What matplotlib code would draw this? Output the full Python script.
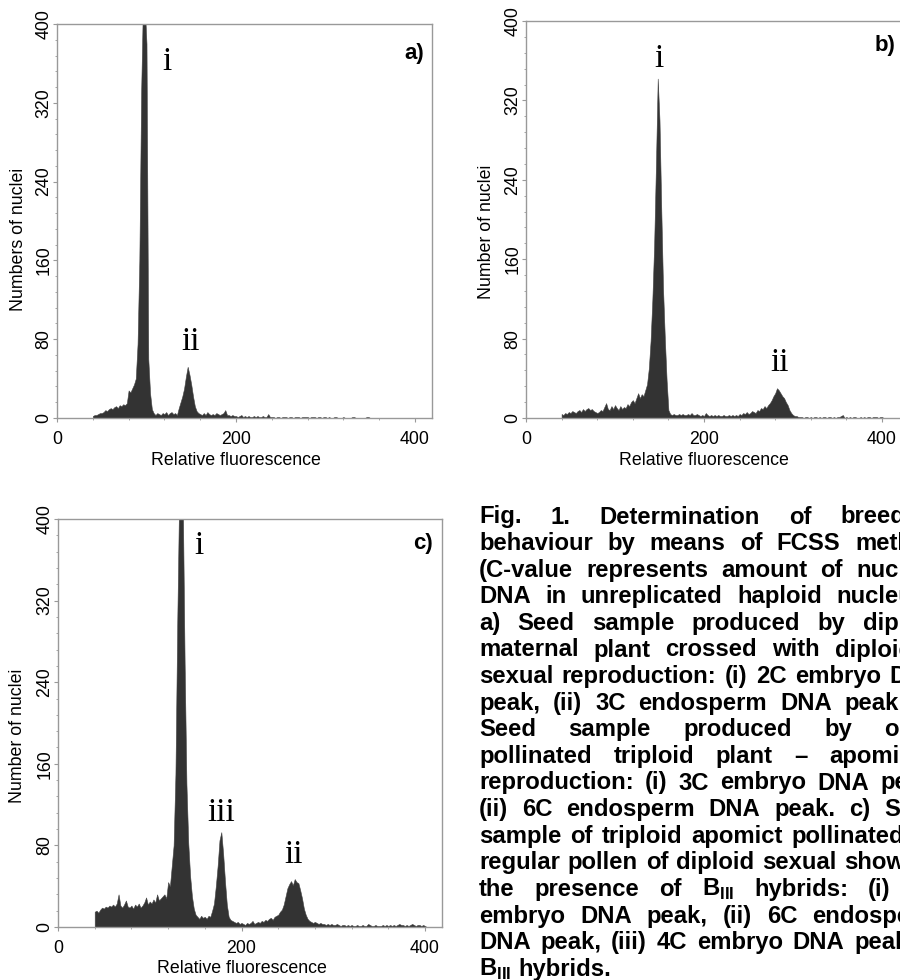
import numpy as np
import matplotlib.pyplot as plt

plt.rcParams['font.family'] = 'Liberation Sans'
plt.rcParams['mathtext.fontset'] = 'custom'
plt.rcParams['mathtext.bf'] = 'Liberation Sans:bold'
plt.rcParams['mathtext.rm'] = 'Liberation Sans'

W, H = 900, 980

# histogram data: number of nuclei per channel, channels 40, 42, 44, ...
first_channel = 40
channel_step = 2

counts_a = [2, 3, 3, 4, 5, 5, 6, 8, 7, 9,
            10, 9, 11, 12, 10, 13, 12, 14, 13, 15,
            28, 26, 30, 34, 40, 75, 160, 330, 420, 420,
            380, 60, 25, 9, 5, 3, 5, 4, 3, 5,
            4, 6, 3, 5, 6, 4, 5, 3, 10, 16,
            22, 30, 42, 52, 44, 34, 22, 12, 7, 5,
            4, 3, 5, 3, 6, 4, 3, 4, 3, 5,
            4, 3, 4, 5, 8, 3, 3, 2, 3, 2,
            2, 1, 2, 3, 1, 2, 1, 2, 1, 1,
            2, 1, 2, 1, 1, 2, 1, 1, 4, 1,
            1, 1, 0, 1, 1, 0, 1, 1, 1, 0,
            1, 1, 0, 1, 1, 1, 0, 1, 1, 1,
            1, 0, 1, 1, 1, 0, 1, 1, 0, 1,
            1, 0, 1, 0, 0, 1, 1, 0, 0, 0,
            1, 0, 0, 0, 0, 1, 1, 0, 0, 0,
            0, 0, 0, 1, 1, 0]

counts_b = [4, 3, 5, 4, 6, 5, 7, 6, 5, 7,
            8, 6, 9, 7, 9, 10, 8, 9, 7, 6,
            5, 6, 8, 7, 11, 15, 9, 8, 12, 9,
            13, 10, 8, 12, 9, 11, 10, 14, 12, 16,
            18, 15, 20, 25, 20, 24, 22, 28, 34, 50,
            78, 120, 175, 255, 342, 300, 210, 130, 80, 38,
            8, 4, 3, 4, 3, 3, 4, 3, 4, 3,
            3, 4, 3, 5, 3, 3, 4, 3, 2, 3,
            2, 5, 3, 2, 3, 2, 3, 2, 3, 2,
            2, 3, 2, 2, 3, 2, 3, 2, 3, 2,
            4, 3, 5, 4, 6, 4, 5, 7, 6, 5,
            8, 7, 10, 9, 12, 10, 13, 15, 18, 22,
            25, 30, 28, 25, 22, 20, 16, 13, 8, 5,
            3, 2, 2, 1, 1, 1, 0, 1, 1, 0,
            1, 0, 1, 1, 0, 1, 0, 1, 1, 0,
            1, 1, 0, 1, 0, 1, 1, 2, 3, 0,
            1, 0, 1, 0, 1, 1, 0, 0, 1, 0,
            1, 0, 1, 1, 0, 1, 1, 1, 0, 1,
            1, 0, 0]

counts_c = [15, 16, 14, 17, 19, 18, 20, 19, 21, 20,
            22, 20, 23, 32, 21, 19, 22, 26, 20, 19,
            21, 18, 22, 20, 23, 19, 21, 24, 29, 22,
            25, 23, 27, 24, 32, 26, 28, 30, 32, 28,
            44, 40, 60, 80, 150, 300, 420, 420, 420, 260,
            140, 82, 50, 30, 18, 12, 10, 8, 11, 9,
            10, 8, 11, 10, 16, 23, 40, 60, 85, 93,
            72, 45, 22, 10, 7, 6, 5, 4, 5, 3,
            4, 3, 2, 4, 3, 4, 6, 3, 4, 5,
            4, 6, 5, 7, 6, 8, 9, 7, 10, 11,
            12, 15, 17, 22, 30, 38, 42, 45, 41, 47,
            44, 43, 36, 28, 18, 12, 8, 6, 5, 4,
            5, 4, 3, 4, 3, 3, 2, 3, 2, 3,
            2, 2, 3, 2, 1, 2, 2, 1, 2, 1,
            2, 1, 1, 2, 1, 1, 2, 1, 1, 3,
            2, 1, 1, 2, 1, 1, 1, 2, 1, 2,
            1, 2, 1, 2, 1, 2, 3, 2, 2, 1,
            2, 1, 2, 3, 2, 1, 2, 2, 1, 2,
            1, 0]

ylabels = ['Numbers of nuclei', 'Number of nuclei', 'Number of nuclei']
tags = ['a)', 'b)', 'c)']
peak_names = [['i', 'ii'], ['i', 'ii'], ['i', 'iii', 'ii']]
peak_spots = [[(122.6, 353), (149.4, 69)],
              [(149.5, 354), (285, 47)],
              [(154, 366), (178.4, 104), (257, 63)]]

caption = [
    'Fig. 1. Determination of breeding',
    'behaviour by means of FCSS method',
    '(C-value represents amount of nuclear',
    'DNA in unreplicated haploid nucleus).',
    'a) Seed sample produced by diploid',
    'maternal plant crossed with diploid \u2013',
    'sexual reproduction: (i) 2C embryo DNA',
    'peak, (ii) 3C endosperm DNA peak. b)',
    'Seed sample produced by open',
    'pollinated triploid plant \u2013 apomictic',
    'reproduction: (i) 3C embryo DNA peak,',
    '(ii) 6C endosperm DNA peak. c) Seed',
    'sample of triploid apomict pollinated by',
    'regular pollen of diploid sexual showing',
    r'the presence of $\mathbf{B}_{\mathbf{III}}$ hybrids: (i) 3C',
    'embryo DNA peak, (ii) 6C endosperm',
    'DNA peak, (iii) 4C embryo DNA peak of',
    r'$\mathbf{B}_{\mathbf{III}}$ hybrids.',
]


def fx(px):
    return px / W


def fy(py):
    return 1 - py / H


fig = plt.figure(figsize=(9, 9.8), dpi=100)

# axes boxes in pixels: left, top, right, bottom ; px per channel
boxes = [(57, 24, 432, 418, 0.895), (526, 21, 904, 418, 0.89), (58, 519, 442, 927, 0.9175)]
ylab_pos = [(18.5, 239), (486, 232), (17.5, 736)]
xlab_y = [460, 460, 968]
tag_pos = [(424, 53), (895, 46), (433, 543)]
all_counts = [counts_a, counts_b, counts_c]

fill_col = '#333333'
frame_col = '#999999'
fs = 12.8

for i in range(3):
    l, t, r, b, sc = boxes[i]
    ax = fig.add_axes([fx(l), fy(b), (r - l) / W, (b - t) / H])
    y = np.array(all_counts[i])
    x = first_channel + channel_step * np.arange(len(y))
    ax.fill_between(x, y, color=fill_col, lw=0.4, edgecolor='#444444')
    ax.set_xlim(0, (r - l) / sc)
    ax.set_ylim(0, 400)
    for s in ax.spines.values():
        s.set_color(frame_col)
        s.set_linewidth(1.0)
    ax.set_xticks([0, 200, 400])
    ax.set_xticks(np.arange(40, 400, 40), minor=True)
    ax.set_yticks([0, 80, 160, 240, 320, 400])
    ax.set_yticks(np.arange(0, 401, 16), minor=True)
    ax.tick_params(which='major', length=3, color=frame_col, labelsize=fs)
    ax.tick_params(which='minor', length=1.5, color=frame_col)
    ax.tick_params(axis='x', pad=6.5)
    ax.tick_params(axis='y', pad=0.5)
    for lab in ax.get_yticklabels():
        lab.set_rotation(90)
        lab.set_va('center')
    fig.text(fx(ylab_pos[i][0]), fy(ylab_pos[i][1]), ylabels[i], rotation=90,
             ha='center', va='center', fontsize=fs)
    fig.text(fx(l + 200 * sc), fy(xlab_y[i]), 'Relative fluorescence',
             ha='center', va='center', fontsize=fs)
    for name, (px, py) in zip(peak_names[i], peak_spots[i]):
        ax.text(px, py, name, ha='center', va='baseline', fontsize=24,
                family='Liberation Serif')
    fig.text(fx(tag_pos[i][0]), fy(tag_pos[i][1]), tags[i], ha='right', va='center',
             fontsize=16, fontweight='bold')

# caption, justified text running past the right edge
cap_fs = 17.2
left = 479
right = 941
base0 = 523.5
lead = 26.6
renderer = fig.canvas.get_renderer()
for k, line in enumerate(caption):
    words = line.split(' ')
    texts = [fig.text(0, fy(base0 + lead * k), w, fontsize=cap_fs, fontweight='bold',
                      va='baseline', ha='left') for w in words]
    widths = [tx.get_window_extent(renderer).width for tx in texts]
    if k == len(caption) - 1:
        gap = 0.278 * cap_fs * 100 / 72
    else:
        gap = (right - left - sum(widths)) / (len(words) - 1)
    xpos = left
    for tx, w in zip(texts, widths):
        tx.set_x(fx(xpos))
        xpos += w + gap

fig.savefig('out.png', dpi=100)
